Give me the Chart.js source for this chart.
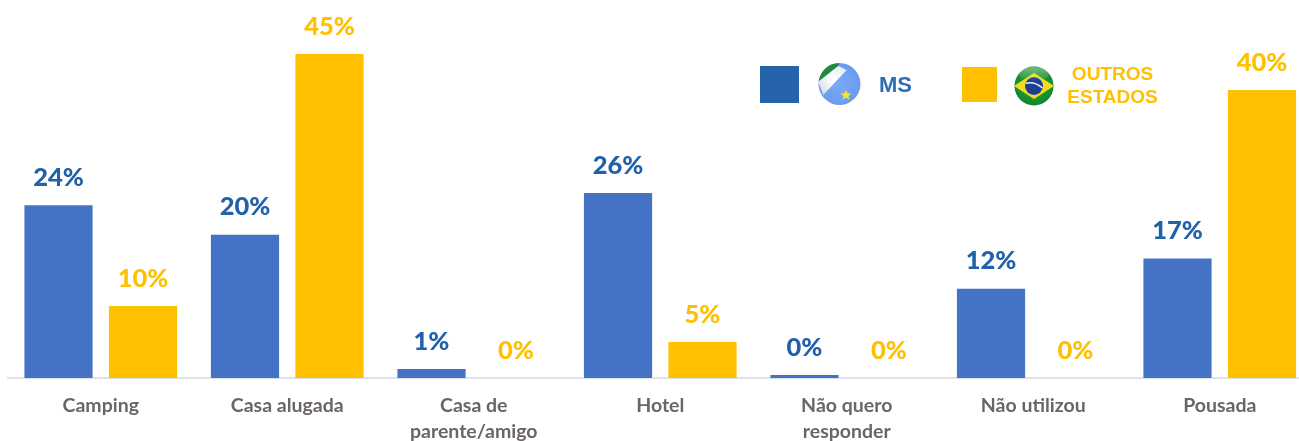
<!DOCTYPE html>
<html lang="pt">
<head>
<meta charset="utf-8">
<title>Meio de hospedagem</title>
<script src="https://cdn.jsdelivr.net/npm/chart.js@4"></script>
<style>
html,body{margin:0;padding:0;background:#fff;overflow:hidden;width:1299px;height:441px}
#wrap{position:relative;width:1299px;height:441px;overflow:hidden}
#c{position:absolute;left:0;top:0}
.sq{position:absolute}
.lg{position:absolute;font-family:"Liberation Sans",Arial,sans-serif;font-weight:700;white-space:nowrap}
svg{position:absolute}
</style>
</head>
<body>
<div id="wrap">
<canvas id="c" width="1313" height="441" style="width:1313px;height:441px"></canvas>
<div class="sq" style="left:760px;top:66px;width:39px;height:37px;background:#2563AB"></div>
<svg style="left:816px;top:62px" width="46" height="46" viewBox="0 0 46 46">
<defs>
<clipPath id="cp1"><circle cx="23.5" cy="22" r="21"/></clipPath>
<radialGradient id="g1" cx="50%" cy="50%" r="55%"><stop offset="0" stop-color="#7aa9f7"/><stop offset=".85" stop-color="#6b9bee"/><stop offset="1" stop-color="#9dbdf0"/></radialGradient>
<linearGradient id="gw" x1="1" y1="0" x2="0" y2="1"><stop offset="0" stop-color="#dfe9f2"/><stop offset=".5" stop-color="#ffffff"/><stop offset="1" stop-color="#c9d4dd"/></linearGradient>
<linearGradient id="gl" x1="0" y1="0" x2="0" y2="1"><stop offset="0" stop-color="#fff" stop-opacity=".4"/><stop offset="1" stop-color="#fff" stop-opacity="0"/></linearGradient>
</defs>
<g clip-path="url(#cp1)">
<rect width="46" height="46" fill="url(#g1)"/>
<path d="M0 0H23.5L22.3 4L2.3 19.7L0 22Z" fill="#1f8a3b"/>
<path d="M22.3 4L30.7 8L7.3 33L2.3 19.7Z" fill="url(#gw)"/>
</g>
<polygon points="30,27.5 31.5,31.2 35.4,31.4 32.4,33.9 33.4,37.7 30,35.6 26.6,37.7 27.6,33.9 24.6,31.4 28.5,31.2" fill="#f2e82a"/>
</svg>
<div class="lg" style="left:879px;top:72px;font-size:22px;line-height:25px;color:#2E6DB4">MS</div>
<div class="sq" style="left:962px;top:67px;width:35px;height:35px;background:#FFC000"></div>
<svg style="left:1013px;top:65px" width="42" height="42" viewBox="0 0 42 42">
<defs>
<clipPath id="cp2"><circle cx="21" cy="21" r="19.5"/></clipPath>
<radialGradient id="g2" cx="50%" cy="45%" r="60%"><stop offset="0" stop-color="#2fae3c"/><stop offset="1" stop-color="#0d7d2a"/></radialGradient>
</defs>
<g clip-path="url(#cp2)">
<rect width="42" height="42" fill="url(#g2)"/>
<polygon points="21,8 41,21 21,34 1,21" fill="#f3dc1a"/>
<circle cx="21" cy="21" r="9" fill="#1c3f94"/>
<path d="M12.5 18.5Q21 15.5 29.5 23" fill="none" stroke="#e8eef5" stroke-width="1.5"/>
<ellipse cx="21" cy="9" rx="15" ry="7" fill="url(#gl)"/>
</g>
</svg>
<div class="lg" style="left:1062px;top:62px;width:101px;text-align:center;font-size:19px;line-height:23px;color:#FFC000">OUTROS<br>ESTADOS</div>
</div>
<script>
const categories = ["Camping", "Casa alugada", ["Casa de", "parente/amigo"], "Hotel", ["Não quero", "responder"], "Não utilizou", "Pousada"];
const msValues = [24, 19.9, 1.25, 25.7, 0.4, 12.4, 16.6];
const outrosValues = [10, 45, 0, 5, 0, 0, 40];
const msBarColor = "#4472C4";
const msLabelColor = "#2160AA";
const outrosColor = "#FFC000";

const valueLabels = {
  id: "valueLabels",
  afterDatasetsDraw(chart) {
    const ctx = chart.ctx;
    ctx.save();
    ctx.textAlign = "center";
    ctx.textBaseline = "middle";
    ctx.font = "900 25.5px Lato, Carlito, sans-serif";
    chart.data.datasets.forEach((ds, i) => {
      chart.getDatasetMeta(i).data.forEach((bar, j) => {
        ctx.fillStyle = ds.labelColor;
        ctx.fillText(Math.round(ds.data[j]) + "%", bar.x, bar.y - 27.5);
      });
    });
    ctx.restore();
  }
};

new Chart(document.getElementById("c"), {
  type: "bar",
  data: {
    labels: categories,
    datasets: [
      { label: "MS", data: msValues, backgroundColor: msBarColor, labelColor: msLabelColor },
      { label: "OUTROS ESTADOS", data: outrosValues, backgroundColor: outrosColor, labelColor: outrosColor }
    ]
  },
  plugins: [valueLabels],
  options: {
    responsive: false,
    animation: false,
    layout: { padding: { left: 7.5, right: 0, top: 0, bottom: 0 } },
    plugins: { legend: { display: false }, tooltip: { enabled: false } },
    datasets: { bar: { categoryPercentage: 0.906, barPercentage: 0.807 } },
    scales: {
      x: {
        afterFit(scale) { scale.height = 63; },
        grid: { display: false, drawTicks: false },
        border: { display: true, color: "#DCE3EC", width: 2 },
        ticks: {
          padding: 15,
          maxRotation: 0,
          autoSkip: false,
          color: "#6B6566",
          font: { family: "Lato, Carlito, sans-serif", weight: "bold", size: 19.5, lineHeight: 1.34 }
        }
      },
      y: {
        display: false,
        min: 0,
        max: 52.5
      }
    }
  }
});
</script>
</body>
</html>
